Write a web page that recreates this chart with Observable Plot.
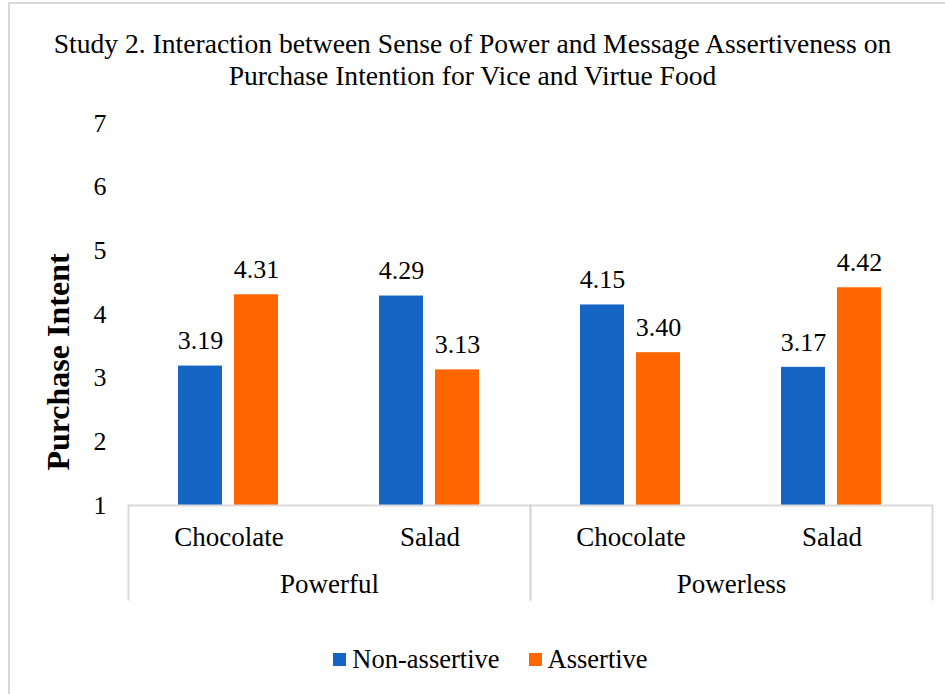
<!DOCTYPE html>
<html>
<head>
<meta charset="utf-8">
<script src="https://cdn.jsdelivr.net/npm/d3@7"></script>
<script src="https://cdn.jsdelivr.net/npm/@observablehq/plot@0.6"></script>
<style>
  body { margin: 0; background: #fff; }
  #wrap { position: relative; width: 945px; height: 694px; overflow: hidden; background: #fff;
          font-family: "Liberation Serif", "Times New Roman", serif; color: #000; }
  #border { position: absolute; left: 8px; top: 2px; width: 960px; height: 720px;
            border-left: 2px solid #d9d9d9; border-top: 2px solid #d9d9d9; }
  #title { position: absolute; top: 28px; left: 0; width: 945px; text-align: center;
           font-size: 27.6px; line-height: 32px; }
  #chart { position: absolute; left: 0; top: 0; }
  #chart svg, #chart svg text { font-family: "Liberation Serif", "Times New Roman", serif !important; }
  #ylabel { position: absolute; left: 58px; top: 362px; transform: translate(-50%, -50%) rotate(-90deg);
            font-size: 32px; font-weight: bold; white-space: nowrap; }
  #legend { position: absolute; top: 643px; left: 18px; width: 945px; display: flex; justify-content: center;
            align-items: center; font-size: 26.5px; line-height: 32px; gap: 29px; }
  #legend .item { display: flex; align-items: center; gap: 6px; }
  #legend .sw { width: 13px; height: 13px; display: inline-block; }
</style>
</head>
<body>
<div id="wrap">
  <div id="border"></div>
  <div id="chart"></div>
  <div id="title">Study 2. Interaction between Sense of Power and Message Assertiveness on<br>Purchase Intention for Vice and Virtue Food</div>
  <div id="ylabel">Purchase Intent</div>
  <div id="legend"></div>
</div>
<script>
// ---- data ----
const groups = ["Powerful", "Powerful", "Powerless", "Powerless"];
const foods = ["Chocolate", "Salad", "Chocolate", "Salad"];
const seriesNames = ["Non-assertive", "Assertive"];
const nonAssertive = [3.19, 4.29, 4.15, 3.17];
const assertive = [4.31, 3.13, 3.40, 4.42];
const yTicks = [1, 2, 3, 4, 5, 6, 7];
const yDomain = [1, 7];
const seriesColors = ["#1565c4", "#ff6600"];

// ---- table built from arrays ----
const keys = groups.map((g, i) => g + " | " + foods[i]);
const rows = [];
keys.forEach((k, i) => {
  rows.push({key: k, group: groups[i], food: foods[i], series: seriesNames[0], value: nonAssertive[i]});
  rows.push({key: k, group: groups[i], food: foods[i], series: seriesNames[1], value: assertive[i]});
});
const cats = keys.map((k, i) => ({key: k, food: foods[i], group: groups[i]}));
const groupFirst = cats.filter((c, i) => i === 0 || groups[i - 1] !== groups[i]);
const groupLast = cats.filter((c, i) => i === cats.length - 1 || groups[i + 1] !== groups[i]);

const axisColor = "#d9d9d9";
const serif = "'Liberation Serif', 'Times New Roman', serif";

const chart = Plot.plot({
  width: 945,
  height: 620,
  marginLeft: 127,
  marginRight: 12,
  marginTop: 123,
  marginBottom: 115,
  style: {fontFamily: serif, fontSize: "26px", color: "#000", background: "transparent"},
  fx: {domain: keys, padding: 0, axis: null},
  x: {domain: seriesNames, paddingInner: 0.21, paddingOuter: 0.873, axis: null},
  y: {domain: yDomain, axis: null},
  color: {domain: seriesNames, range: seriesColors},
  marks: [
    Plot.axisY({ticks: yTicks, tickFormat: d => String(d), tickSize: 0, tickPadding: 22, label: null,
                fontSize: 26, fontFamily: serif, facetAnchor: "left"}),
    Plot.barY(rows, {fx: "key", x: "series", y1: yDomain[0], y2: "value", fill: "series"}),
    Plot.text(rows, {fx: "key", x: "series", y: "value", text: d => d.value.toFixed(2), dy: -25,
                     fontSize: 26, fontFamily: serif}),
    Plot.ruleY([yDomain[0]], {stroke: axisColor, strokeWidth: 2}),
    Plot.text(cats, {fx: "key", text: "food", frameAnchor: "bottom", dy: 40, fontSize: 27, fontFamily: serif}),
    Plot.text(groupFirst, {fx: "key", text: "group", frameAnchor: "bottom-right", textAnchor: "middle", dy: 87,
                           fontSize: 27, fontFamily: serif}),
    ...groupFirst.map(c => Plot.frame({fx: () => c.key, anchor: "left", stroke: axisColor, strokeWidth: 2, insetTop: 382, insetBottom: -94})),
    ...groupLast.map(c => Plot.frame({fx: () => c.key, anchor: "right", stroke: axisColor, strokeWidth: 2, insetTop: 382, insetBottom: -94}))
  ]
});
document.getElementById("chart").appendChild(chart);

// legend
const legend = document.getElementById("legend");
seriesNames.forEach((s, i) => {
  const item = document.createElement("div");
  item.className = "item";
  const sw = document.createElement("span");
  sw.className = "sw";
  sw.style.background = seriesColors[i];
  const t = document.createElement("span");
  t.textContent = s;
  item.appendChild(sw);
  item.appendChild(t);
  legend.appendChild(item);
});
</script>
</body>
</html>
